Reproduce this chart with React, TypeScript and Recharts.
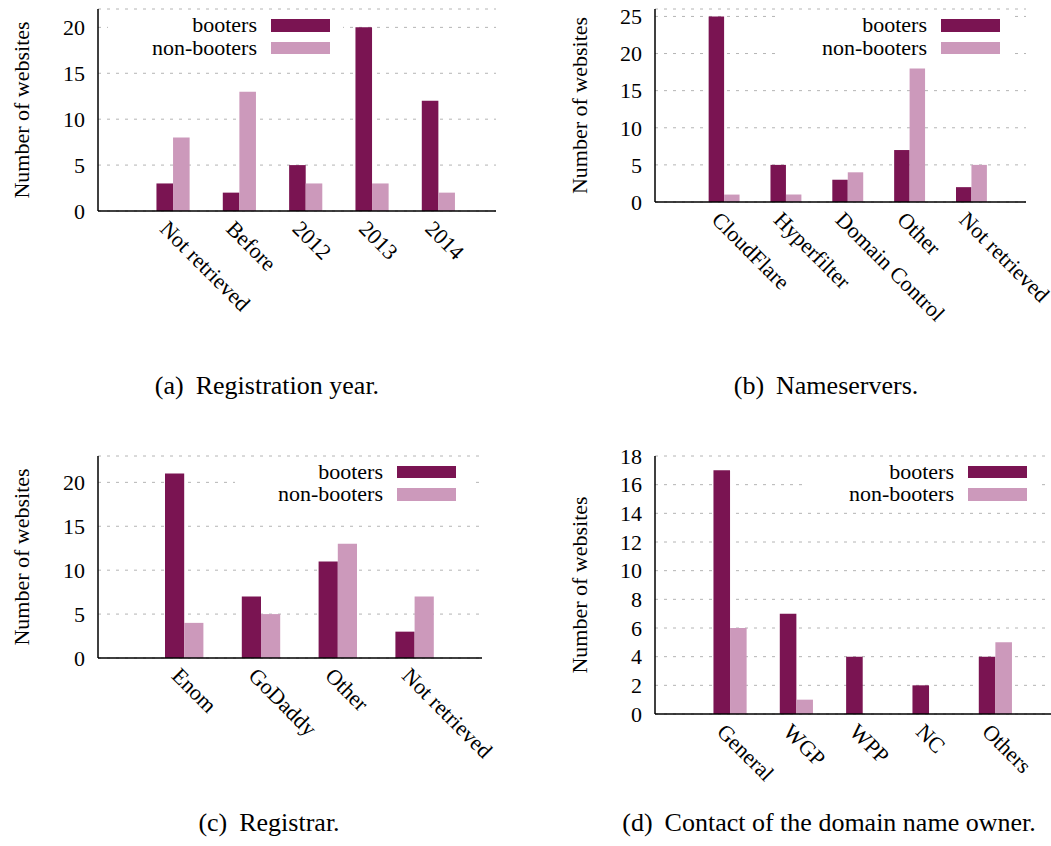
import { Bar, BarChart, CartesianGrid, Legend, XAxis, YAxis } from "recharts";

const FONT = "'Liberation Serif', 'Times New Roman', serif";
const DARK = "#7a1452";
const LIGHT = "#cc99bb";

const seriesNames = ["booters", "non-booters"];

const regYearCats = ["Not retrieved", "Before", "2012", "2013", "2014"];
const regYearBooters = [3, 2, 5, 20, 12];
const regYearNonBooters = [8, 13, 3, 3, 2];

const nsCats = ["CloudFlare", "Hyperfilter", "Domain Control", "Other", "Not retrieved"];
const nsBooters = [25, 5, 3, 7, 2];
const nsNonBooters = [1, 1, 4, 18, 5];

const registrarCats = ["Enom", "GoDaddy", "Other", "Not retrieved"];
const registrarBooters = [21, 7, 11, 3];
const registrarNonBooters = [4, 5, 13, 7];

const contactCats = ["General", "WGP", "WPP", "NC", "Others"];
const contactBooters = [17, 7, 4, 2, 4];
const contactNonBooters = [6, 1, 0, 0, 5];

const ticks5 = (max: number) => [0, 5, 10, 15, 20, 25].filter((t) => t <= max);
const ticks2 = [0, 2, 4, 6, 8, 10, 12, 14, 16, 18];

const makeRows = (cats: string[], b: number[], nb: number[]) =>
  cats.map((name, i) => ({ name, booters: b[i], nonBooters: nb[i] }));

// rotated category labels, like gnuplot's "rotate by -45"
const XTick = (props: any) => {
  const { x, y, payload } = props;
  const ax = x - 14;
  const ay = y + 19;
  return (
    <text
      x={ax}
      y={ay}
      transform={`rotate(45 ${ax} ${ay})`}
      textAnchor="start"
      fontSize={22}
      fill="#000"
      fontFamily={FONT}
    >
      {payload.value}
    </text>
  );
};

const KeyBox = ({ box }: { box: any }) => (
  <div
    style={{
      position: "absolute",
      left: box.left,
      top: box.top,
      width: box.right - box.left,
      paddingTop: 3,
      paddingBottom: 5,
      background: "#fff",
      fontFamily: FONT,
    }}
  >
    {seriesNames.map((s, i) => (
      <div key={s} style={{ display: "flex", alignItems: "center", height: 22.5 }}>
        <span
          style={{
            width: box.textRight - box.left,
            textAlign: "right",
            fontSize: 22,
            lineHeight: "22.5px",
            color: "#000",
            whiteSpace: "nowrap",
          }}
        >
          {s}
        </span>
        <span
          style={{
            marginLeft: 14,
            width: 59,
            height: 12.5,
            background: i === 0 ? DARK : LIGHT,
          }}
        />
      </div>
    ))}
  </div>
);

const frame = { stroke: "#000", strokeWidth: 1.5 };

const Panel = ({ left, top, width, height, plot, data, yMax, yTicks, labelX, box }: any) => {
  const slot = (plot.right - plot.left) / (data.length + 1);
  const pad = { left: slot * 0.625, right: slot * 0.375 };
  return (
    <div style={{ position: "absolute", left, top }}>
      <BarChart
        width={width}
        height={height}
        data={data}
        margin={{ top: plot.top, right: width - plot.right, left: 0, bottom: 0 }}
        barGap={0}
        barSize={slot / 4}
      >
        <CartesianGrid vertical={false} stroke="#b4b4b4" strokeDasharray="3 6" />
        <XAxis
          dataKey="name"
          height={height - plot.bottom}
          interval={0}
          tick={<XTick />}
          tickLine={false}
          tickSize={0}
          tickMargin={0}
          axisLine={frame}
          padding={pad}
        />
        <XAxis
          xAxisId="top"
          orientation="top"
          dataKey="name"
          height={0}
          tick={false}
          tickLine={false}
          axisLine={frame}
          padding={pad}
        />
        <YAxis
          width={plot.left}
          domain={[0, yMax]}
          ticks={yTicks}
          interval={0}
          tickLine={false}
          tickSize={0}
          tickMargin={13}
          tick={{ fontSize: 22, fill: "#000", fontFamily: FONT }}
          axisLine={frame}
          label={{
            value: "Number of websites",
            angle: -90,
            position: "insideLeft",
            offset: labelX,
            fill: "#000",
            fontSize: 22,
            fontFamily: FONT,
            style: { textAnchor: "middle" },
          }}
        />
        <YAxis
          yAxisId="right"
          orientation="right"
          width={0}
          domain={[0, yMax]}
          tick={false}
          tickLine={false}
          axisLine={frame}
        />
        <Bar dataKey="booters" name="booters" fill={DARK} isAnimationActive={false} />
        <Bar dataKey="nonBooters" name="non-booters" fill={LIGHT} isAnimationActive={false} />
        <Legend
          layout="horizontal"
          verticalAlign="middle"
          align="center"
          wrapperStyle={{ left: 0, top: 0, width, height: 0 }}
          content={() => <KeyBox box={box} />}
        />
      </BarChart>
    </div>
  );
};

const Caption = ({ cx, baseline, tag, text }: any) => (
  <div
    style={{
      position: "absolute",
      left: cx - 250,
      top: baseline - 23.8,
      width: 500,
      textAlign: "center",
      fontSize: 26,
      lineHeight: "30px",
      fontFamily: FONT,
      color: "#000",
    }}
  >
    {tag}
    <span style={{ marginLeft: 12 }}>{text}</span>
  </div>
);

export default function App() {
  return (
    <div
      style={{
        position: "absolute",
        left: 0,
        top: 0,
        width: 1051,
        height: 846,
        overflow: "hidden",
        background: "#fff",
        fontFamily: FONT,
      }}
    >
      <Panel
        left={0}
        top={0}
        width={520}
        height={340}
        plot={{ left: 98, top: 9, right: 496, bottom: 211 }}
        data={makeRows(regYearCats, regYearBooters, regYearNonBooters)}
        yMax={22}
        yTicks={ticks5(22)}
        labelX={21}
        box={{ left: 108, right: 343, textRight: 257, top: 11.25 }}
      />
      <Panel
        left={540}
        top={0}
        width={530}
        height={340}
        plot={{ left: 115, top: 9, right: 486, bottom: 202 }}
        data={makeRows(nsCats, nsBooters, nsNonBooters)}
        yMax={26}
        yTicks={ticks5(26)}
        labelX={39}
        box={{ left: 240, right: 470, textRight: 387, top: 11.25 }}
      />
      <Panel
        left={0}
        top={440}
        width={520}
        height={370}
        plot={{ left: 98, top: 16, right: 482, bottom: 218 }}
        data={makeRows(registrarCats, registrarBooters, registrarNonBooters)}
        yMax={23}
        yTicks={ticks5(23)}
        labelX={21}
        box={{ left: 235, right: 470, textRight: 383, top: 17.75 }}
      />
      <Panel
        left={540}
        top={440}
        width={520}
        height={370}
        plot={{ left: 115, top: 16, right: 513, bottom: 274 }}
        data={makeRows(contactCats, contactBooters, contactNonBooters)}
        yMax={18}
        yTicks={ticks2}
        labelX={39}
        box={{ left: 267, right: 497, textRight: 414, top: 17.75 }}
      />
      <Caption cx={267} baseline={395} tag="(a)" text="Registration year." />
      <Caption cx={826} baseline={395} tag="(b)" text="Nameservers." />
      <Caption cx={269} baseline={832} tag="(c)" text="Registrar." />
      <Caption cx={829} baseline={832} tag="(d)" text="Contact of the domain name owner." />
    </div>
  );
}
